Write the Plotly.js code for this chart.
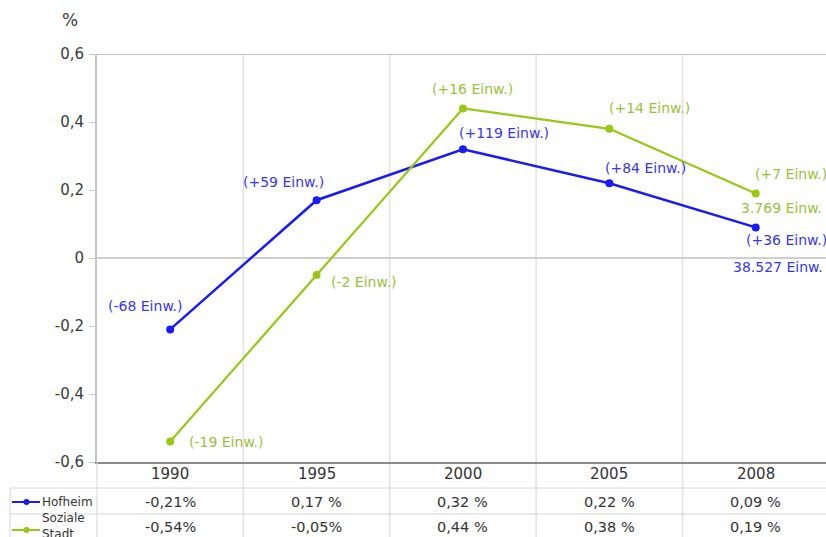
<!DOCTYPE html>
<html>
<head>
<meta charset="utf-8">
<script src="https://cdn.plot.ly/plotly-3.0.1.min.js"></script>
<style>
  html, body { margin: 0; padding: 0; background: #ffffff; }
  #chart { width: 826px; height: 537px; }
</style>
</head>
<body>
<div id="chart"></div>
<script>
// Bevölkerungsentwicklung: jährliche Veränderung in %
const years = ['1990', '1995', '2000', '2005', '2008'];
const hofheimName = 'Hofheim';
const sozialeName = 'Soziale<br>Stadt';
const hofheimValues = [-0.21, 0.17, 0.32, 0.22, 0.09];
const sozialeValues = [-0.54, -0.05, 0.44, 0.38, 0.19];
const hofheimChange = ['-68', '+59', '+119', '+84', '+36'];
const sozialeChange = ['-19', '-2', '+16', '+14', '+7'];
const hofheimTotal = '38.527';
const sozialeTotal = '3.769';
const yTicks = [-0.6, -0.4, -0.2, 0, 0.2, 0.4, 0.6];

const BLUE = '#1a1af8';
const BLUE_TXT = '#3636f4';
const GREEN = '#99c814';
const GREEN_TXT = '#99c23c';
const FONT = 'DejaVu Sans, Verdana, sans-serif';

// page geometry
const W = 826, H = 537;
const M = { l: 97, r: 0, t: 54, b: 75 };
const plotH = H - M.t - M.b;
const plotW = W - M.l - M.r;
const py = y => (H - M.b - y) / plotH;   // pixel row -> paper y
const px = x => (x - M.l) / plotW;       // pixel column -> paper x

// label offsets (pixels) relative to each point
const hofOffsets = [[-25, 23], [-33, 18], [41, 16], [36, 15], [31, -13]];
const sozOffsets = [[56, 0], [47, -7], [10, 19], [40, 21], [35, 19]];
const LABEL_SIZE = 14;

const fmtPct = v => v.toFixed(2).replace('.', ',') + (v < 0 ? '%' : ' %');
const fmtTick = v => (v === 0 ? '0' : v.toFixed(1).replace('.', ','));

const traces = [
  {
    x: years, y: hofheimValues, type: 'scatter', mode: 'lines+markers',
    name: hofheimName, line: { color: BLUE, width: 2.5 },
    marker: { color: BLUE, size: 8 }, cliponaxis: false, hoverinfo: 'x+y'
  },
  {
    x: years, y: sozialeValues, type: 'scatter', mode: 'lines+markers',
    name: sozialeName, line: { color: GREEN, width: 2.2 },
    marker: { color: GREEN, size: 8 }, cliponaxis: false, hoverinfo: 'x+y'
  }
];

const annotations = [];

// point labels (category axis: x given as the category's index)
function pointLabels(values, changes, offsets, color) {
  values.forEach((v, i) => {
    annotations.push({
      x: i, y: v, xref: 'x', yref: 'y', showarrow: false,
      text: '(' + changes[i] + ' Einw.)',
      xshift: offsets[i][0], yshift: offsets[i][1],
      xanchor: 'center', yanchor: 'middle',
      font: { family: FONT, size: LABEL_SIZE, color: color }
    });
  });
}
pointLabels(hofheimValues, hofheimChange, hofOffsets, BLUE_TXT);
pointLabels(sozialeValues, sozialeChange, sozOffsets, GREEN_TXT);

// population totals at the last year
const last = years.length - 1;
annotations.push({
  x: last, y: hofheimValues[last], xref: 'x', yref: 'y', showarrow: false,
  text: hofheimTotal + ' Einw.', xshift: 22, yshift: -40,
  font: { family: FONT, size: LABEL_SIZE, color: BLUE_TXT }
});
annotations.push({
  x: last, y: sozialeValues[last], xref: 'x', yref: 'y', showarrow: false,
  text: sozialeTotal + ' Einw.', xshift: 26, yshift: -15,
  font: { family: FONT, size: LABEL_SIZE, color: GREEN_TXT }
});

// unit label above the y axis
annotations.push({
  x: px(70), y: py(20), xref: 'paper', yref: 'paper', showarrow: false,
  text: '%', xanchor: 'center', yanchor: 'middle',
  font: { family: FONT, size: 17, color: '#3a3a3a' }
});

// data table under the chart
const rowHeader = py(474), rowHof = py(502), rowSoz = py(527);
years.forEach((yr, i) => {
  annotations.push({
    x: i, y: rowHeader, xref: 'x', yref: 'paper', showarrow: false,
    text: yr, yanchor: 'middle', font: { family: FONT, size: 15, color: '#333333' }
  });
  annotations.push({
    x: i, y: rowHof, xref: 'x', yref: 'paper', showarrow: false,
    text: fmtPct(hofheimValues[i]), yanchor: 'middle',
    font: { family: FONT, size: 14.5, color: '#333333' }
  });
  annotations.push({
    x: i, y: rowSoz, xref: 'x', yref: 'paper', showarrow: false,
    text: fmtPct(sozialeValues[i]), yanchor: 'middle',
    font: { family: FONT, size: 14.5, color: '#333333' }
  });
});

// series names in the first table column
annotations.push({
  x: px(40), y: rowHof, xref: 'paper', yref: 'paper', showarrow: false,
  text: hofheimName, xanchor: 'left', yanchor: 'middle',
  font: { family: FONT, size: 12, color: '#333333' }
});
annotations.push({
  x: px(40), y: py(526), xref: 'paper', yref: 'paper', showarrow: false,
  text: sozialeName, xanchor: 'left', yanchor: 'middle', align: 'left',
  font: { family: FONT, size: 12, color: '#333333' }
});

const shapes = [];
const gridColor = '#e2e2e2';
const tableColor = '#d6d6d6';

// vertical separators between the years, running down through the table
for (let i = 0; i < years.length - 1; i++) {
  shapes.push({
    type: 'line', xref: 'x', yref: 'paper', x0: i + 0.5, x1: i + 0.5,
    y0: 1, y1: py(H), line: { color: gridColor, width: 1.5 }, layer: 'below'
  });
}
// top border of the plot
shapes.push({
  type: 'line', xref: 'paper', yref: 'y', x0: 0, x1: 1, y0: 0.6, y1: 0.6,
  line: { color: '#c4c4c4', width: 2 }
});
// table rows
[488, 514].forEach(r => {
  shapes.push({
    type: 'line', xref: 'paper', yref: 'paper', x0: px(10), x1: 1, y0: py(r), y1: py(r),
    line: { color: tableColor, width: 1 }
  });
});
// table left border and name column separator
shapes.push({
  type: 'line', xref: 'paper', yref: 'paper', x0: px(10), x1: px(10), y0: py(488), y1: py(H),
  line: { color: tableColor, width: 1 }
});
shapes.push({
  type: 'line', xref: 'paper', yref: 'paper', x0: 0, x1: 0, y0: 0, y1: py(H),
  line: { color: tableColor, width: 1 }
});
// legend keys
function legendKey(yPix, color) {
  shapes.push({
    type: 'line', xref: 'paper', yref: 'paper', x0: px(12), x1: px(40), y0: py(yPix), y1: py(yPix),
    line: { color: color, width: 2 }
  });
  shapes.push({
    type: 'circle', xref: 'paper', yref: 'paper', x0: px(23.5), x1: px(29.5),
    y0: py(yPix + 3), y1: py(yPix - 3), fillcolor: color, line: { color: color, width: 0 }
  });
}
legendKey(502, BLUE);
legendKey(530, GREEN);

const layout = {
  width: W, height: H,
  margin: M,
  paper_bgcolor: '#ffffff', plot_bgcolor: '#ffffff',
  separators: ', ',
  showlegend: false,
  font: { family: FONT, size: 14, color: '#444444' },
  xaxis: {
    type: 'category', range: [-0.5, 4.48], showgrid: false, zeroline: false,
    showticklabels: false, ticks: '', fixedrange: true,
    showline: true, linecolor: '#8a8a8a', linewidth: 2
  },
  yaxis: {
    range: [-0.6, 0.6], tickvals: yTicks, ticktext: yTicks.map(fmtTick), showgrid: false,
    zeroline: true, zerolinecolor: '#cfcfcf', zerolinewidth: 2,
    showline: true, linecolor: '#c4c4c4', linewidth: 2,
    ticks: 'outside', ticklen: 6, tickcolor: '#c4c4c4', tickwidth: 1,
    ticklabelstandoff: 2, fixedrange: true,
    tickfont: { family: FONT, size: 15, color: '#3a3a3a' }
  },
  annotations: annotations,
  shapes: shapes
};

Plotly.newPlot('chart', traces, layout, { displayModeBar: false, staticPlot: true });
</script>
</body>
</html>
